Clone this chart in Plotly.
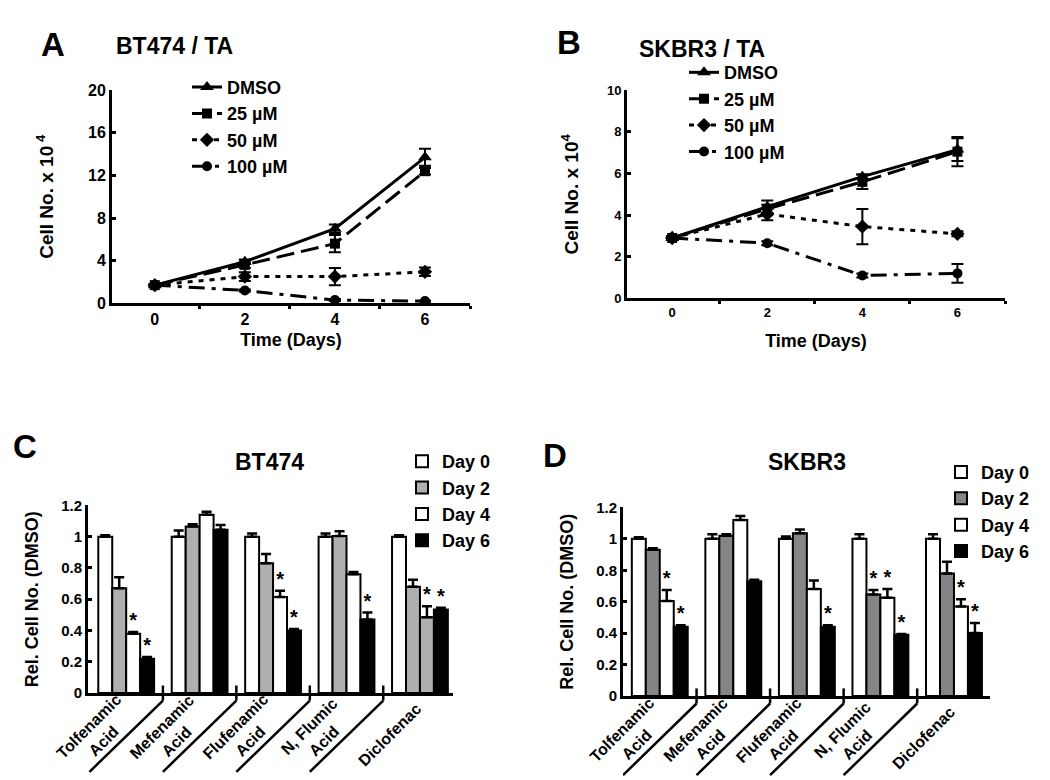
import plotly.graph_objects as go

# Panels A / B: growth curves
days = [0, 2, 4, 6]
treatments = ["DMSO", "25 µM", "50 µM", "100 µM"]

bt474_vals = [
    [1.7, 3.9, 7.0, 13.7],
    [1.7, 3.6, 5.6, 12.4],
    [1.7, 2.5, 2.5, 2.95],
    [1.7, 1.2, 0.3, 0.2],
]
bt474_err = [
    [0.1, 0.2, 0.4, 0.8],
    [0.1, 0.3, 0.8, 0.3],
    [0.1, 0.4, 0.8, 0.4],
    [0.1, 0.1, 0.1, 0.05],
]
skbr3_vals = [
    [2.9, 4.4, 5.85, 7.15],
    [2.9, 4.3, 5.6, 7.05],
    [2.9, 4.05, 3.45, 3.1],
    [2.9, 2.65, 1.1, 1.2],
]
skbr3_err = [
    [0.1, 0.3, 0.1, 0.55],
    [0.1, 0.2, 0.35, 0.7],
    [0.1, 0.3, 0.85, 0.12],
    [0.1, 0.1, 0.1, 0.45],
]

# Panels C / D: relative cell number per drug
drugs = ["Tolfenamic<br>Acid", "Mefenamic<br>Acid", "Flufenamic<br>Acid",
         "N, Flumic<br>Acid", "Diclofenac"]
day_labels = ["Day 0", "Day 2", "Day 4", "Day 6"]

bt474_rel = [
    [1.0, 1.0, 1.0, 1.0, 1.0],
    [0.67, 1.065, 0.83, 1.005, 0.68],
    [0.38, 1.14, 0.615, 0.76, 0.485],
    [0.22, 1.045, 0.40, 0.47, 0.535],
]
bt474_rel_err = [
    [0.01, 0.04, 0.02, 0.02, 0.01],
    [0.07, 0.015, 0.06, 0.03, 0.045],
    [0.01, 0.02, 0.04, 0.015, 0.07],
    [0.01, 0.03, 0.01, 0.045, 0.01],
]
bt474_stars = [(0, 2), (0, 3), (2, 2), (2, 3), (3, 3), (4, 2), (4, 3)]

skbr3_rel = [
    [1.0, 1.0, 1.0, 1.0, 1.0],
    [0.93, 1.02, 1.035, 0.645, 0.78],
    [0.605, 1.12, 0.68, 0.625, 0.57],
    [0.44, 0.73, 0.44, 0.39, 0.40],
]
skbr3_rel_err = [
    [0.01, 0.03, 0.015, 0.03, 0.03],
    [0.01, 0.01, 0.025, 0.03, 0.075],
    [0.07, 0.025, 0.055, 0.055, 0.045],
    [0.01, 0.01, 0.01, 0.005, 0.065],
]
skbr3_stars = [(0, 2), (0, 3), (2, 3), (3, 1), (3, 2), (3, 3), (4, 2), (4, 3)]

FONT = "Liberation Sans, Arial, sans-serif"
W, H = 1050, 780


def px_x(a, b):
    return [a / W, b / W]


def px_y(top, bottom):
    return [1 - bottom / H, 1 - top / H]


line_styles = [
    dict(dash="solid", symbol="triangle-up", size=12),
    dict(dash="18px,7px", symbol="square", size=10),
    dict(dash="5px,6px", symbol="diamond", size=11),
    dict(dash="16px,7px,4px,7px", symbol="circle", size=10),
]

fig = go.Figure()


def add_growth(vals, errs, xa, ya, legend):
    for name, v, e, st in zip(treatments, vals, errs, line_styles):
        fig.add_trace(go.Scatter(
            x=days, y=v, name=name, mode="lines+markers",
            xaxis=xa, yaxis=ya, legend=legend, cliponaxis=False,
            line=dict(color="black", width=3, dash=st["dash"]),
            marker=dict(color="black", symbol=st["symbol"], size=st["size"]),
            error_y=dict(type="data", array=e, color="black", thickness=2, width=6),
        ))


add_growth(bt474_vals, bt474_err, "x", "y", "legend")
add_growth(skbr3_vals, skbr3_err, "x2", "y2", "legend2")

bar_w = 0.19
bar_off = [-0.38, -0.19, 0.0, 0.19]


def add_bars(vals, errs, stars, colors, xa, ya, legend):
    groups = list(range(len(drugs)))
    for j, (lab, v, e) in enumerate(zip(day_labels, vals, errs)):
        fig.add_trace(go.Bar(
            x=groups, y=v, name=lab, width=bar_w, offset=bar_off[j],
            xaxis=xa, yaxis=ya, legend=legend,
            marker=dict(color=colors[j], line=dict(color="black", width=2)),
            error_y=dict(type="data", array=e, arrayminus=[0] * len(v),
                         symmetric=False, color="black", thickness=2.5, width=5),
        ))
    sx = [g + bar_off[d] + bar_w / 2 for g, d in stars]
    sy = [vals[d][g] + errs[d][g] for g, d in stars]
    fig.add_trace(go.Scatter(
        x=sx, y=sy, mode="text", text=["*"] * len(stars), textposition="top center",
        textfont=dict(size=20, color="black", family=FONT),
        xaxis=xa, yaxis=ya, showlegend=False, cliponaxis=False,
    ))


gray_c = "#afafaf"
gray_d = "#858585"
add_bars(bt474_rel, bt474_rel_err, bt474_stars,
         ["white", gray_c, ["white", "white", "white", "white", gray_c], "black"],
         "x3", "y3", "legend3")
add_bars(skbr3_rel, skbr3_rel_err, skbr3_stars,
         ["white", gray_d, "white", "black"], "x4", "y4", "legend4")

axis_common = dict(showline=True, linecolor="black", linewidth=3, showgrid=False,
                   zeroline=False, tickfont=dict(family=FONT, color="black", weight="bold"))

xa_line = dict(axis_common, range=[-0.95, 7], tickvals=days, ticks="",
               minor=dict(tickvals=[1, 3, 5, 7], ticks="outside", ticklen=3,
                          tickwidth=3, tickcolor="black"))

fig.update_layout(
    width=W, height=H, margin=dict(l=0, r=0, t=0, b=0),
    paper_bgcolor="white", plot_bgcolor="white", barmode="overlay",
    font=dict(family=FONT, color="black", weight="bold"),
    xaxis=dict(xa_line, domain=px_x(104, 462), anchor="y",
               tickfont=dict(size=16, family=FONT, weight="bold"),
               title=dict(text="Time (Days)", font=dict(size=18), standoff=6)),
    yaxis=dict(axis_common, domain=px_y(75, 293), anchor="x", range=[0, 20],
               dtick=4, ticks="inside", ticklen=4, tickwidth=3, tickcolor="black",
               tickfont=dict(size=16, family=FONT, weight="bold"),
               title=dict(text="Cell No. x 10<sup> 4</sup>", font=dict(size=19), standoff=30)),
    xaxis2=dict(xa_line, domain=px_x(619, 997), anchor="y2",
                tickfont=dict(size=13, family=FONT, weight="bold"),
                title=dict(text="Time (Days)", font=dict(size=18), standoff=16)),
    yaxis2=dict(axis_common, domain=px_y(75, 288), anchor="x2", range=[0, 10],
                dtick=2, ticks="inside", ticklen=4, tickwidth=3, tickcolor="black",
                tickfont=dict(size=13, family=FONT, weight="bold"),
                title=dict(text="Cell No. x 10<sup>4</sup>", font=dict(size=19), standoff=24)),
    xaxis3=dict(axis_common, domain=px_x(80, 445), anchor="y3", range=[-0.52, 4.45],
                showticklabels=False, ticks=""),
    yaxis3=dict(axis_common, domain=px_y(500, 692), anchor="x3", range=[0, 1.2],
                dtick=0.2, ticks="inside", ticklen=4, tickwidth=3, tickcolor="black",
                tickfont=dict(size=15, family=FONT, weight="bold"),
                title=dict(text="Rel. Cell No. (DMSO)", font=dict(size=18), standoff=18)),
    xaxis4=dict(axis_common, domain=px_x(615, 982), anchor="y4", range=[-0.5, 4.49],
                showticklabels=False, ticks=""),
    yaxis4=dict(axis_common, domain=px_y(502, 695), anchor="x4", range=[0, 1.2],
                dtick=0.2, ticks="inside", ticklen=4, tickwidth=3, tickcolor="black",
                tickfont=dict(size=15, family=FONT, weight="bold"),
                title=dict(text="Rel. Cell No. (DMSO)", font=dict(size=18), standoff=18)),
)

leg_common = dict(bgcolor="rgba(0,0,0,0)", font=dict(size=18, family=FONT, weight="bold"),
                  xanchor="left", yanchor="top")
fig.update_layout(
    legend=dict(leg_common, x=179 / W, y=1 - 53 / H),
    legend2=dict(leg_common, x=676 / W, y=1 - 38 / H),
    legend3=dict(leg_common, x=394 / W, y=1 - 436 / H),
    legend4=dict(leg_common, x=933 / W, y=1 - 447 / H),
)

# panel letters and titles
texts = [
    ("A", 45, 28, 33), ("B", 561, 26, 33), ("C", 17, 440, 33), ("D", 547, 449, 33),
    ("BT474 / TA", 166, 30, 23), ("SKBR3 / TA", 694, 33, 23),
    ("BT474", 261, 456, 23), ("SKBR3", 799, 456, 23),
]
for t, x, y, s in texts:
    fig.add_annotation(text=t, x=x / W, y=1 - y / H, xref="paper", yref="paper",
                       showarrow=False, xanchor="center", yanchor="middle",
                       font=dict(size=s, family=FONT, color="black", weight="bold"))

# category labels and separators for bar panels
for xa, ya in [("x3", "y3"), ("x4", "y4")]:
    for i, d in enumerate(drugs):
        fig.add_annotation(text=d, x=i, y=-0.22, xref=xa, yref=ya + " domain",
                           xanchor="center", yanchor="middle",
                           xshift=-30, showarrow=False, textangle=-45, align="center",
                           font=dict(size=16, family=FONT, color="black", weight="bold"))
        if i < len(drugs) - 1:
            b = i + 0.5
            fig.add_shape(type="line", xref=xa, yref=ya + " domain",
                          x0=b, x1=b, y0=0.04, y1=-0.04,
                          line=dict(color="black", width=2.5))
            fig.add_shape(type="line", xref=xa, yref=ya + " domain",
                          x0=b, x1=b - 1, y0=-0.04, y1=-0.42,
                          line=dict(color="black", width=2.5))

fig.write_html("out.html")
